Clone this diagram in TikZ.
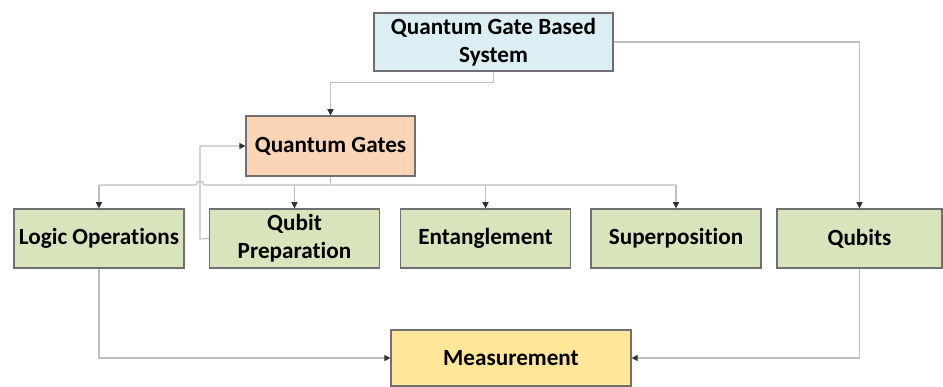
\documentclass[tikz,border=0pt]{standalone}
\usepackage{fontspec}
\setmainfont{Carlito}[Ligatures=NoCommon]
\usetikzlibrary{arrows.meta}

\definecolor{sysblue}{HTML}{DAEEF3}
\definecolor{gatepeach}{HTML}{FBD5B5}
\definecolor{opgreen}{HTML}{D7E4BC}
\definecolor{measyellow}{HTML}{FFE699}
\definecolor{linegray}{HTML}{BFBFBF}
\definecolor{edgegray}{HTML}{707070}

\tikzset{
    box/.style={draw=edgegray, line width=0.7pt, align=center, inner sep=2pt,
        font=\fontsize{13.2}{16}\selectfont\bfseries, text=black},
    opbox/.style={box, fill=opgreen, minimum width=3.4cm, minimum height=1.18cm},
    conn/.style={draw=linegray, line width=0.6pt},
    tip/.style={conn, -{Triangle[length=3.5pt, width=3.5pt, color=black!80]}}
}

\begin{document}
\begin{tikzpicture}[x=0.02cm, y=-0.02cm]
    \useasboundingbox (0,0) rectangle (943,386);

    % Kopf und Gatter
    \node[box, fill=sysblue, minimum width=4.78cm, minimum height=1.16cm] (sys) at (493.5,42) {Quantum Gate Based\\System};
    \node[box, fill=gatepeach, minimum width=3.38cm, minimum height=1.2cm] (gates) at (330.5,146) {Quantum Gates};

    % untere Reihe
    \node[opbox] (logic) at (99,238.5) {Logic Operations};
    \node[opbox] (prep) at (294.5,238.5) {Qubit\\Preparation};
    \node[opbox] (ent) at (485.5,238.5) {Entanglement};
    \node[opbox] (super) at (676,238.5) {Superposition};
    \node[opbox, minimum width=3.3cm] (qubits) at (859.5,238.5) {Qubits};

    % Messung
    \node[box, fill=measyellow, minimum width=4.8cm, minimum height=1.12cm] (meas) at (511,358) {Measurement};

    % Verbindungen von oben
    \draw[tip] (sys.south) -- ++(0,11) -| (gates.north);
    \draw[tip] (sys.east) -| (qubits.north);

    % Verteiler unter den Gattern
    \coordinate (bus) at (330,185);
    \draw[conn] (gates.south) -- (gates.south |- bus);
    \draw[conn] (logic.north |- bus) -- (196,185) arc[start angle=180, end angle=0, radius=0.08cm] -- (super.north |- bus);
    \foreach \n in {logic, prep, ent, super}
        \draw[tip] (\n.north |- bus) -- (\n.north);

    % Rueckfuehrung
    \coordinate (back) at (200,239);
    \draw[tip] (prep.west) -- (back) |- (gates.west);

    % zur Messung
    \draw[tip] (logic.south) |- (meas.west);
    \draw[tip] (qubits.south) |- (meas.east);
\end{tikzpicture}
\end{document}
